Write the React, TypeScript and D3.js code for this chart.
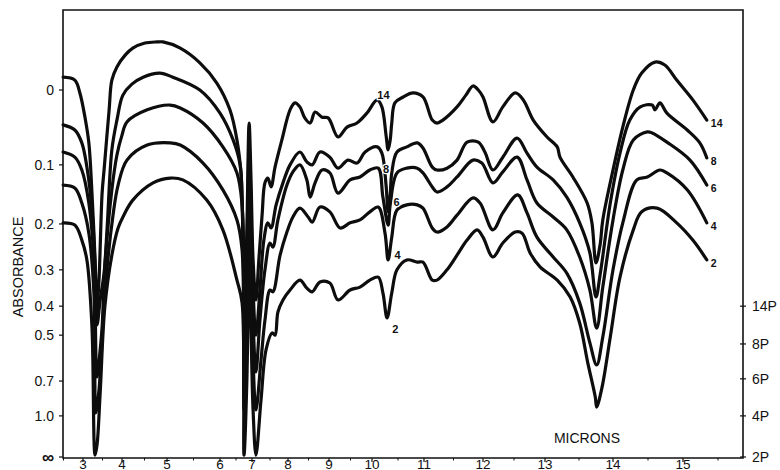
import React from 'react';
import * as d3 from 'd3';

type Pt = [number, number]; // [wavelength in microns, chart reading in % (0 = ∞ absorbance line, 100 = zero absorbance line)]

// Wavelength axis labels and the calibration of the (non-uniform) recorder chart
const MICRON_TICKS = [3, 4, 5, 6, 7, 8, 9, 10, 11, 12, 13, 14, 15];
const MICRON_TICK_X = [83, 122, 167, 220, 252, 288, 329, 372, 424, 483, 545, 613, 683];

// Left absorbance axis: labels and the reading (%) at which each one sits
const ABS_LABELS = ['0', '0.1', '0.2', '0.3', '0.4', '0.5', '0.7', '1.0', '∞'];
const ABS_TICK_T = [100, 79.6, 63.5, 51.0, 41.1, 33.2, 20.7, 11.2, 0];

// Right axis: zero-transmission line of each pressure run
const PRESSURE_LABELS = ['14P', '8P', '6P', '4P', '2P'];
const PRESSURE_ZERO_T = [41.1, 30.8, 21.3, 11.2, 0];

const SPECTRUM_14: Pt[] = [
  [2.49, 103.5], [2.79, 102.7], [2.92, 99.2], [3.05, 92.6], [3.15, 85.6], [3.23, 71.9], [3.31, 53.7],
  [3.36, 40.9], [3.41, 48.2], [3.49, 71.9], [3.54, 78.2], [3.67, 94.6], [3.74, 102.7], [3.87, 106.3],
  [4.07, 109.5], [4.24, 111.4], [4.51, 112.8], [4.78, 113.1], [4.91, 113.1], [5.25, 111.4], [5.62, 107.4],
  [5.94, 101.9], [6.31, 94.6], [6.53, 86.4], [6.66, 76.8], [6.72, 59.1], [6.78, 42.8], [6.84, 61.9],
  [6.91, 91.0], [6.97, 75.5], [7.03, 53.7], [7.11, 42.8], [7.19, 53.7], [7.28, 65.9], [7.36, 74.7],
  [7.44, 76.0], [7.53, 73.6], [7.64, 79.0], [7.83, 86.4], [8.05, 94.6], [8.17, 96.5], [8.29, 95.4],
  [8.41, 92.4], [8.54, 91.0], [8.66, 94.0], [8.83, 92.6], [8.98, 92.4], [9.21, 87.2], [9.42, 89.9],
  [9.65, 91.0], [9.88, 93.7], [10.10, 97.3], [10.19, 95.4], [10.27, 87.7], [10.31, 83.7], [10.35, 86.4],
  [10.38, 91.0], [10.44, 96.5], [10.60, 98.1], [10.79, 99.2], [10.98, 98.1], [11.14, 91.8], [11.22, 91.0],
  [11.32, 91.8], [11.56, 95.4], [11.71, 98.6], [11.83, 101.1], [11.92, 100.0], [12.00, 98.1], [12.16, 91.3],
  [12.32, 95.4], [12.52, 99.2], [12.65, 97.3], [12.81, 91.8], [13.03, 87.2], [13.18, 84.5], [13.22, 81.7],
  [13.41, 76.3], [13.62, 69.2], [13.69, 63.8], [13.75, 52.9], [13.81, 57.8], [13.85, 64.6], [14.00, 78.2],
  [14.14, 89.9], [14.29, 100.0], [14.41, 104.6], [14.60, 107.6], [14.74, 106.8], [14.91, 102.7],
  [15.14, 97.3], [15.34, 91.8],
];

const SPECTRUM_8: Pt[] = [
  [2.49, 90.5], [2.79, 89.1], [2.97, 85.6], [3.10, 79.0], [3.23, 67.3], [3.31, 51.8], [3.36, 36.0],
  [3.44, 42.8], [3.54, 50.1], [3.62, 62.7], [3.74, 83.7], [3.87, 91.8], [4.02, 98.6], [4.22, 101.6],
  [4.47, 103.5], [4.84, 104.6], [5.11, 103.5], [5.62, 100.0], [6.00, 93.7], [6.41, 86.4], [6.63, 79.6],
  [6.69, 70.0], [6.78, 33.2], [6.84, 53.7], [6.91, 83.7], [6.97, 67.3], [7.03, 45.5], [7.11, 33.2],
  [7.22, 45.5], [7.33, 59.1], [7.44, 63.8], [7.53, 62.4], [7.67, 68.7], [7.86, 74.7], [8.05, 79.6],
  [8.29, 83.1], [8.46, 80.4], [8.59, 79.6], [8.78, 83.1], [9.02, 81.7], [9.21, 78.7], [9.44, 80.9],
  [9.65, 80.1], [9.84, 83.1], [10.10, 84.5], [10.19, 82.8], [10.27, 74.1], [10.31, 66.8], [10.35, 71.4],
  [10.38, 77.4], [10.48, 83.1], [10.67, 84.5], [10.87, 85.6], [10.98, 84.2], [11.14, 79.0], [11.22, 78.2],
  [11.39, 78.7], [11.56, 80.9], [11.73, 85.8], [11.92, 85.8], [12.03, 83.1], [12.16, 78.2], [12.32, 81.7],
  [12.55, 86.9], [12.71, 82.8], [12.87, 79.0], [13.12, 75.5], [13.32, 70.8], [13.51, 63.8], [13.66, 55.6],
  [13.75, 43.6], [13.81, 49.6], [13.96, 69.2], [14.10, 82.8], [14.24, 91.8], [14.39, 95.4], [14.56, 95.9],
  [14.60, 94.6], [14.67, 96.5], [14.77, 93.7], [15.06, 89.1], [15.24, 85.6], [15.34, 81.5],
];

const SPECTRUM_6: Pt[] = [
  [2.49, 83.1], [2.79, 81.7], [2.97, 78.2], [3.15, 69.2], [3.28, 53.7], [3.36, 21.8], [3.44, 29.2],
  [3.49, 35.4], [3.56, 51.8], [3.74, 72.8], [3.87, 82.3], [4.00, 87.7], [4.11, 91.3], [4.56, 94.6],
  [5.06, 95.9], [5.25, 95.1], [5.68, 91.0], [6.09, 84.5], [6.53, 77.4], [6.69, 68.7], [6.78, 23.7],
  [6.84, 45.5], [6.91, 76.8], [6.97, 59.1], [7.03, 37.3], [7.11, 23.2], [7.22, 37.3], [7.36, 51.0],
  [7.50, 58.3], [7.58, 57.2], [7.72, 64.6], [7.97, 74.1], [8.12, 77.7], [8.29, 79.6], [8.46, 75.5],
  [8.54, 70.8], [8.66, 74.7], [8.83, 78.2], [9.02, 77.4], [9.21, 71.9], [9.49, 75.5], [9.72, 76.3],
  [9.95, 78.2], [10.12, 78.7], [10.21, 70.8], [10.31, 63.2], [10.35, 68.7], [10.48, 77.4], [10.67, 78.7],
  [10.87, 78.7], [10.98, 77.4], [11.14, 73.6], [11.22, 72.2], [11.39, 73.6], [11.56, 76.3], [11.83, 80.9],
  [11.98, 80.1], [12.16, 74.7], [12.32, 77.7], [12.55, 81.7], [12.71, 75.5], [12.87, 69.2], [13.12, 65.4],
  [13.32, 61.9], [13.51, 54.5], [13.66, 45.5], [13.76, 35.1], [13.85, 46.3], [14.00, 64.6], [14.14, 78.2],
  [14.29, 86.4], [14.49, 88.6], [14.56, 88.3], [14.77, 85.8], [15.10, 80.9], [15.34, 74.1],
];

const SPECTRUM_4: Pt[] = [
  [2.49, 74.1], [2.79, 73.3], [2.97, 69.2], [3.15, 61.0], [3.28, 44.7], [3.33, 12.0], [3.41, 18.3],
  [3.46, 26.4], [3.56, 44.7], [3.77, 65.9], [3.90, 74.1], [4.11, 80.9], [4.56, 85.0], [5.06, 85.6],
  [5.25, 85.0], [5.68, 80.1], [6.09, 72.8], [6.53, 64.6], [6.69, 56.4], [6.75, 12.8], [6.84, 34.6],
  [6.91, 68.7], [6.97, 48.2], [7.03, 26.4], [7.11, 12.8], [7.25, 26.4], [7.36, 37.3], [7.50, 45.5],
  [7.58, 45.0], [7.78, 55.0], [7.97, 61.3], [8.12, 65.4], [8.29, 67.8], [8.49, 65.4], [8.59, 64.0],
  [8.78, 68.1], [9.02, 66.8], [9.26, 62.4], [9.49, 63.8], [9.72, 64.6], [9.95, 66.8], [10.12, 68.1],
  [10.25, 61.0], [10.31, 53.7], [10.38, 59.9], [10.48, 67.3], [10.67, 68.7], [10.87, 68.7], [10.98, 67.8],
  [11.14, 62.4], [11.22, 61.3], [11.39, 62.7], [11.56, 65.9], [11.83, 70.6], [11.95, 69.2], [12.16, 61.9],
  [12.32, 66.5], [12.56, 71.4], [12.71, 66.5], [12.87, 59.9], [13.12, 54.5], [13.32, 50.1], [13.51, 42.0],
  [13.66, 31.1], [13.76, 25.1], [13.85, 32.7], [14.00, 51.0], [14.14, 63.8], [14.34, 75.5], [14.49, 76.3],
  [14.67, 78.2], [14.77, 77.4], [15.06, 72.8], [15.34, 63.8],
];

const SPECTRUM_2: Pt[] = [
  [2.49, 63.8], [2.79, 63.2], [2.97, 59.1], [3.10, 53.7], [3.23, 35.4], [3.31, 0.5], [3.36, 3.3],
  [3.44, 17.4], [3.56, 40.9], [3.74, 55.0], [3.90, 62.4], [4.04, 65.9], [4.24, 70.0], [4.69, 74.7],
  [5.06, 76.0], [5.30, 75.5], [5.75, 70.0], [6.09, 61.9], [6.53, 48.2], [6.69, 42.0], [6.75, 0.5],
  [6.84, 21.0], [6.91, 56.4], [6.97, 34.6], [7.03, 12.8], [7.11, 0.5], [7.25, 15.5], [7.39, 29.2],
  [7.56, 33.8], [7.64, 33.2], [7.72, 39.5], [7.86, 42.8], [8.05, 45.5], [8.29, 48.2], [8.46, 46.0],
  [8.59, 45.0], [8.78, 47.7], [9.02, 47.4], [9.21, 42.8], [9.49, 45.5], [9.72, 46.3], [9.95, 48.2],
  [10.12, 49.0], [10.21, 44.7], [10.29, 37.9], [10.38, 44.7], [10.48, 51.0], [10.67, 53.7], [10.87, 53.1],
  [10.98, 53.1], [11.14, 48.2], [11.22, 48.2], [11.39, 51.0], [11.56, 55.0], [11.73, 59.1], [11.90, 61.9],
  [12.00, 59.9], [12.16, 54.5], [12.32, 58.3], [12.52, 61.3], [12.63, 61.0], [12.76, 55.6], [12.92, 51.8],
  [13.18, 48.2], [13.37, 43.6], [13.51, 36.5], [13.63, 25.6], [13.74, 16.3], [13.76, 13.6], [13.84, 19.1],
  [13.96, 32.7], [14.10, 49.0], [14.29, 61.9], [14.41, 66.8], [14.63, 67.8], [14.91, 63.8], [15.14, 59.1],
  [15.34, 53.7],
];

const RUN_LABELS = ['14', '8', '6', '4', '2'];
const SPECTRA = [SPECTRUM_14, SPECTRUM_8, SPECTRUM_6, SPECTRUM_4, SPECTRUM_2];

// Run numbers written beside the 10.3 micron band
const BAND_LABELS: { text: string; micron: number; t: number }[] = [
  { text: '14', micron: 10.22, t: 98.5 },
  { text: '8', micron: 10.27, t: 78.5 },
  { text: '6', micron: 10.47, t: 69.5 },
  { text: '4', micron: 10.49, t: 55 },
  { text: '2', micron: 10.45, t: 35 },
];

const FONT = '"Liberation Sans", Arial, Helvetica, sans-serif';

export default function App() {
  const left = 63, right = 743, top = 10, bottom = 458;

  const x = d3.scaleLinear().domain(MICRON_TICKS).range(MICRON_TICK_X);
  const y = d3.scaleLinear().domain([0, 100]).range([457, 90]);

  const line = d3
    .line<Pt>()
    .x((d) => x(d[0]))
    .y((d) => y(d[1]))
    .curve(d3.curveCatmullRom.alpha(0.5));

  const minorTicks = d3.range(2.5, 15.51, 0.5).filter((v) => !Number.isInteger(v));

  return (
    <svg
      width={780}
      height={470}
      viewBox="0 0 780 470"
      style={{ position: 'absolute', left: 0, top: 0, background: '#fff', display: 'block' }}
      fontFamily={FONT}
    >
      <rect x={0} y={0} width={780} height={470} fill="#fff" />

      {/* frame */}
      <path
        d={`M${left},${top}H${right}V${bottom}H${left}Z`}
        fill="none"
        stroke="#111"
        strokeWidth={1.6}
      />

      {/* left absorbance axis */}
      {ABS_LABELS.map((lab, i) => (
        <g key={lab}>
          <line x1={left - 4} x2={left} y1={y(ABS_TICK_T[i])} y2={y(ABS_TICK_T[i])} stroke="#111" strokeWidth={1.2} />
          <text
            x={54}
            y={y(ABS_TICK_T[i])}
            dy="0.36em"
            textAnchor="end"
            fontSize={lab === '∞' ? 17 : 14}
            fontWeight={lab === '∞' ? 700 : 400}
            fill="#111"
          >
            {lab}
          </text>
        </g>
      ))}
      <text
        transform={`translate(23,267) rotate(-90)`}
        textAnchor="middle"
        fontSize={14.5}
        fill="#111"
      >
        ABSORBANCE
      </text>

      {/* right pressure axis */}
      {PRESSURE_LABELS.map((lab, i) => (
        <g key={lab}>
          <line x1={right - 3} x2={right + 3} y1={y(PRESSURE_ZERO_T[i])} y2={y(PRESSURE_ZERO_T[i])} stroke="#111" strokeWidth={1.2} />
          <text x={752} y={y(PRESSURE_ZERO_T[i])} dy="0.36em" fontSize={14} fill="#111">
            {lab}
          </text>
        </g>
      ))}

      {/* wavelength axis */}
      {MICRON_TICKS.map((m) => (
        <g key={m}>
          <line x1={x(m)} x2={x(m)} y1={bottom} y2={bottom + 4} stroke="#111" strokeWidth={1.2} />
          <text x={x(m)} y={468.5} textAnchor="middle" fontSize={13.5} fill="#111">
            {m}
          </text>
        </g>
      ))}
      {minorTicks.map((m) => (
        <line key={m} x1={x(m)} x2={x(m)} y1={bottom} y2={bottom + 2.5} stroke="#111" strokeWidth={1} />
      ))}
      <text x={587} y={443} textAnchor="middle" fontSize={14} fill="#111">
        MICRONS
      </text>

      {/* spectra */}
      <g fill="none" stroke="#0d0d0d" strokeWidth={3.2} strokeLinejoin="round" strokeLinecap="round">
        {SPECTRA.map((s, i) => (
          <path key={RUN_LABELS[i]} d={line(s) ?? ''} />
        ))}
      </g>

      {/* run labels at the end of each trace */}
      {SPECTRA.map((s, i) => {
        const last = s[s.length - 1];
        return (
          <text
            key={'end' + RUN_LABELS[i]}
            x={x(last[0]) + 4}
            y={y(last[1]) + 3}
            dy="0.36em"
            fontSize={10.5}
            fontWeight={700}
            fill="#111"
          >
            {RUN_LABELS[i]}
          </text>
        );
      })}

      {/* run labels at the 10.3 micron band */}
      {BAND_LABELS.map((b) => (
        <text
          key={'band' + b.text}
          x={x(b.micron)}
          y={y(b.t)}
          dy="0.36em"
          textAnchor="middle"
          fontSize={11}
          fontWeight={700}
          fill="#111"
          stroke="#fff"
          strokeWidth={2.5}
          paintOrder="stroke"
        >
          {b.text}
        </text>
      ))}
    </svg>
  );
}
